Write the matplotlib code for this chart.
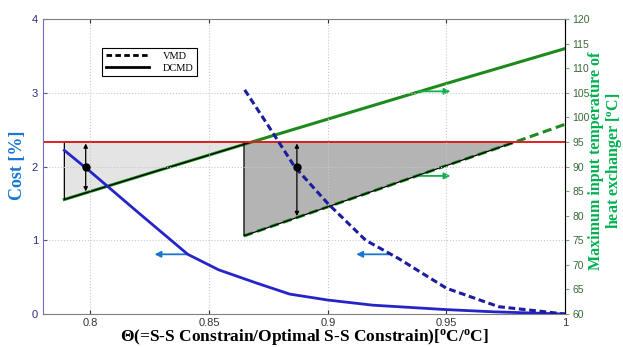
import numpy as np
import matplotlib
matplotlib.use('Agg')
import matplotlib.pyplot as plt
from matplotlib.lines import Line2D

plt.rcParams['mathtext.fontset'] = 'custom'
plt.rcParams['mathtext.rm'] = 'Liberation Serif:bold'
plt.rcParams['mathtext.it'] = 'Liberation Serif:bold'
plt.rcParams['mathtext.bf'] = 'Liberation Serif:bold'
plt.rcParams['font.family'] = ['Liberation Sans', 'DejaVu Sans']

# cost curves (left axis)
x_dcmd_cost = [0.789, 0.80, 0.82, 0.841, 0.854, 0.87, 0.884, 0.90, 0.919, 0.95, 0.97, 1.0]
dcmd_cost = [2.22, 1.93, 1.38, 0.81, 0.60, 0.42, 0.27, 0.19, 0.12, 0.06, 0.03, 0.0]
x_vmd_cost = [0.865, 0.875, 0.886, 0.90, 0.916, 0.93, 0.95, 0.972, 1.0]
vmd_cost = [3.04, 2.55, 2.0, 1.5, 1.0, 0.75, 0.35, 0.10, 0.0]

# max input temperature (right axis)
x_dcmd_temp = [0.789, 0.83, 0.868, 0.91, 0.95, 1.0]
dcmd_temp = [83.3, 89.4, 95.0, 101.1, 106.9, 114.0]
x_vmd_temp = [0.8647, 0.90, 0.95, 0.979, 1.0]
vmd_temp = [75.9, 81.8, 90.2, 95.0, 98.6]

limit_temp = 95.0
marker_x = [0.798, 0.887]
marker_cost = [2.0, 2.0]

xticks = [0.8, 0.85, 0.9, 0.95, 1.0]
xticklabels = ['0.8', '0.85', '0.9', '0.95', '1']

fig = plt.figure(figsize=(6.23, 3.47), dpi=100)
ax = fig.add_axes([0.069, 0.095, 0.838, 0.850])
ax2 = ax.twinx()

blue = '#2424c8'
dblue = '#1c1ca0'
green = '#1e8a1e'
lgreen = '#00b050'

# shaded regions on the temperature axis
xd = np.linspace(x_dcmd_temp[0], x_dcmd_temp[-1], 400)
td = np.interp(xd, x_dcmd_temp, dcmd_temp)
xv = np.linspace(x_vmd_temp[0], x_vmd_temp[-1], 400)
tv = np.interp(xv, x_vmd_temp, vmd_temp)

ax2.fill_between(xd, td, limit_temp, where=td <= limit_temp, interpolate=True,
                 facecolor='#e4e4e4', edgecolor='none', zorder=2)
ax2.fill_between(xv, tv, limit_temp, where=tv <= limit_temp, interpolate=True,
                 facecolor='#b4b4b4', edgecolor='none', zorder=2)
ax2.plot(x_dcmd_temp, dcmd_temp, color=green, lw=2.2, zorder=3)
ax2.plot(x_vmd_temp, vmd_temp, color=green, lw=2.2, ls=(0, (3, 1.5)), zorder=3)
ax2.fill_between(xd, td, limit_temp, where=td <= limit_temp, interpolate=True,
                 facecolor='none', edgecolor='black', lw=0.9, zorder=4)
ax2.fill_between(xv, tv, limit_temp, where=tv <= limit_temp, interpolate=True,
                 facecolor='none', edgecolor='black', lw=0.9, zorder=4)
ax2.axhline(limit_temp, color='#e02020', lw=1.4, zorder=6)

# double arrows between limit and temperature line
for mx, xs, ts in [(marker_x[0], x_dcmd_temp, dcmd_temp), (marker_x[1], x_vmd_temp, vmd_temp)]:
    t_low = np.interp(mx, xs, ts)
    ax2.annotate('', xy=(mx, limit_temp - 0.3), xytext=(mx, t_low + 0.3),
                 arrowprops=dict(arrowstyle='<|-|>', color='black', lw=0.9,
                                 mutation_scale=6, shrinkA=0, shrinkB=0), zorder=7)

# direction arrows
for x0, x1, t in [(0.9385, 0.9517, 105.3), (0.9385, 0.9517, 88.1)]:
    ax2.annotate('', xy=(x1, t), xytext=(x0, t),
                 arrowprops=dict(arrowstyle='-|>', color='#10b050', lw=1.3,
                                 mutation_scale=9, shrinkA=0, shrinkB=0))

ax2.set_ylim(60, 120)
ax2.set_yticks(np.arange(60, 121, 5))

# cost lines drawn on top
ax.set_zorder(ax2.get_zorder() + 1)
ax.patch.set_visible(False)
ax.plot(x_dcmd_cost, dcmd_cost, color=blue, lw=2.0, zorder=5)
ax.plot(x_vmd_cost, vmd_cost, color=dblue, lw=2.2, ls=(0, (2.2, 1.2)), zorder=5)
ax.plot(marker_x, marker_cost, 'o', color='black', ms=5, zorder=8)
for x0, x1 in [(0.841, 0.827), (0.926, 0.912)]:
    ax.annotate('', xy=(x1, 0.81), xytext=(x0, 0.81),
                arrowprops=dict(arrowstyle='-|>', color='#1878d0', lw=1.3,
                                mutation_scale=9, shrinkA=0, shrinkB=0))

ax.set_xlim(0.78, 1.0)
ax.set_ylim(0, 4)
ax.set_xticks(xticks)
ax.set_xticklabels(xticklabels)
ax.set_yticks([0, 1, 2, 3, 4])
ax.grid(True, color='#c8c8c8', ls=':', lw=0.8)
ax.set_axisbelow(True)

ax.tick_params(axis='x', labelsize=8, colors='#333333', length=3, direction='in', top=True, pad=3)
ax.tick_params(axis='y', labelsize=8, colors='#5555aa', labelcolor='#2a2a80', length=3, direction='in')
ax2.tick_params(axis='y', labelsize=7.5, colors='#80a080', labelcolor='#3a6a3a', length=3, pad=2)
for s in ['top', 'bottom']:
    ax.spines[s].set_color('#808080')
ax.spines['left'].set_color('#7070c0')
ax2.spines['right'].set_color('#90b090')
ax2.spines['left'].set_visible(False)
ax2.spines['top'].set_visible(False)
ax2.spines['bottom'].set_visible(False)

ax.set_xlabel(r'$\Theta$(=S-S Constrain/Optimal S-S Constrain)[$^{\rm o}$C/$^{\rm o}$C]',
              family='Liberation Serif', fontweight='bold', fontsize=12.5)
ax.xaxis.set_label_coords(0.5, -0.045)
ax.xaxis.label.set_va('top')

ax.set_ylabel('Cost [%]', family='Liberation Serif', fontweight='bold', fontsize=13,
              color='#1878d0')
ax.yaxis.set_label_coords(-0.048, 0.505)
ax.yaxis.label.set_va('center')

ax2.set_ylabel('Maximum input temperature of\n' + r'heat exchanger [$^{\rm o}$C]',
               family='Liberation Serif', fontweight='bold', fontsize=11.5,
               color=lgreen, linespacing=1.0)
ax2.yaxis.set_label_coords(1.079, 0.52)
ax2.yaxis.label.set_va('center')
ax2.yaxis.label.set_ha('center')

handles = [Line2D([], [], color='black', lw=2, ls=(0, (2, 1.2))),
           Line2D([], [], color='black', lw=2)]
leg = ax.legend(handles, ['VMD', 'DCMD'], loc='upper left', bbox_to_anchor=(0.103, 0.92),
                prop={'family': 'Liberation Serif', 'size': 7.5}, fancybox=False,
                framealpha=1, edgecolor='black', handlelength=4.2, borderpad=0.35,
                labelspacing=0.25, handletextpad=1.3)
leg.get_frame().set_linewidth(0.8)

fig.savefig('out.png', dpi=100)
